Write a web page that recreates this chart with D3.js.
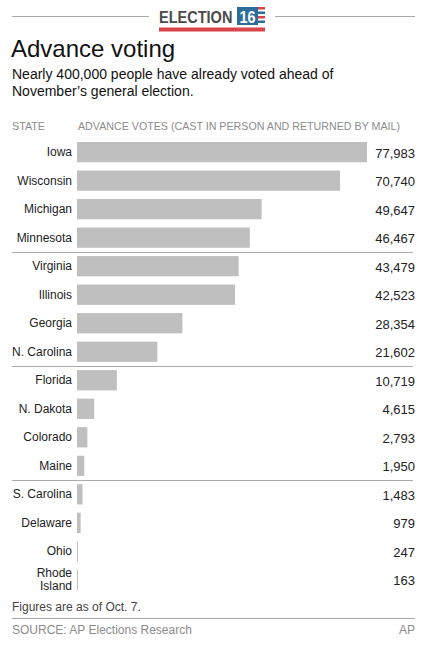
<!DOCTYPE html>
<html>
<head>
<meta charset="utf-8">
<title>Advance voting</title>
<style>
    body { margin: 0; background: #fff; }
    svg { display: block; font-family: "Liberation Sans", Arial, sans-serif; }
    .state { font-size: 12px; fill: #222; text-anchor: end; }
    .value { font-size: 13px; fill: #222; text-anchor: end; }
    .bar { fill: #bfbfbf; }
    .sep { stroke: #aaa; stroke-width: 1px; }
    .gray { fill: #8c8c8c; }
</style>
</head>
<body>
<svg id="chart" width="435" height="650"></svg>
<script src="https://cdnjs.cloudflare.com/ajax/libs/d3/7.8.5/d3.min.js"></script>
<script>
const states = ["Iowa", "Wisconsin", "Michigan", "Minnesota", "Virginia", "Illinois", "Georgia", "N. Carolina",
                "Florida", "N. Dakota", "Colorado", "Maine", "S. Carolina", "Delaware", "Ohio", "Rhode Island"];
const votes = [77983, 70740, 49647, 46467, 43479, 42523, 28354, 21602,
               10719, 4615, 2793, 1950, 1483, 979, 247, 163];
const groupBreaks = ["Virginia", "Florida", "S. Carolina"]; // a rule is drawn above these

const svg = d3.select("#chart");

// header: ELECTION 16 logo
svg.append("line").attr("class", "sep").attr("x1", 12).attr("x2", 149).attr("y1", 16.5).attr("y2", 16.5);
svg.append("line").attr("class", "sep").attr("x1", 275).attr("x2", 415).attr("y1", 16.5).attr("y2", 16.5);
svg.append("text")
    .attr("transform", "translate(159,23) scale(0.88,1)")
    .style("font-size", "16.5px").style("font-weight", "bold").style("fill", "#4a4a4a")
    .text("ELECTION");
svg.append("rect").attr("x", 237).attr("y", 7).attr("width", 21).attr("height", 18).attr("fill", "#2d6e98");
svg.append("text")
    .attr("transform", "translate(247.5,23) scale(0.9,1)")
    .attr("text-anchor", "middle")
    .style("font-size", "16px").style("font-weight", "bold").style("fill", "#fff")
    .text("16");
[0, 1, 2, 3].forEach(i => {
    svg.append("rect").attr("x", 258).attr("y", 7 + i * 4.5).attr("width", 7).attr("height", 2.5)
        .attr("fill", i % 2 ? "#2d6e98" : "#d9434a");
});
svg.append("rect").attr("x", 159).attr("y", 27.5).attr("width", 106).attr("height", 4).attr("fill", "#d9434a");

// titles
svg.append("text").attr("x", 11).attr("y", 57).style("font-size", "24px").style("fill", "#111")
    .text("Advance voting");
svg.append("text").attr("x", 12).attr("y", 79).style("font-size", "14px").style("fill", "#111")
    .text("Nearly 400,000 people have already voted ahead of");
svg.append("text").attr("x", 12).attr("y", 96).style("font-size", "14px").style("fill", "#111")
    .text("November\u2019s general election.");

svg.append("text").attr("class", "gray").attr("x", 12).attr("y", 130)
    .attr("textLength", 33).attr("lengthAdjust", "spacingAndGlyphs")
    .style("font-size", "11px").text("STATE");
svg.append("text").attr("class", "gray").attr("x", 78).attr("y", 130)
    .attr("textLength", 322).attr("lengthAdjust", "spacingAndGlyphs")
    .style("font-size", "11px").text("ADVANCE VOTES (CAST IN PERSON AND RETURNED BY MAIL)");

// scales
const x = d3.scaleLinear().domain([0, d3.max(votes)]).range([77, 367]);
const y = d3.scaleBand().domain(states).range([138, 594]).paddingInner(0.29).paddingOuter(0.14);

const rows = states.map((s, i) => ({ state: s, value: votes[i] }));

svg.selectAll(".bar").data(rows).enter().append("rect")
    .attr("class", "bar")
    .attr("x", x(0))
    .attr("y", d => y(d.state))
    .attr("width", d => Math.max(1, x(d.value) - x(0)))
    .attr("height", y.bandwidth());

const fmt = d3.format(",");
svg.selectAll(".value").data(rows).enter().append("text")
    .attr("class", "value")
    .attr("x", 415)
    .attr("y", d => y(d.state) + y.bandwidth() / 2 + 5.5)
    .text(d => fmt(d.value));

const labels = svg.selectAll(".state").data(rows).enter().append("text")
    .attr("class", "state")
    .attr("x", 72)
    .attr("y", d => y(d.state) + y.bandwidth() / 2 + 4);
labels.each(function (d) {
    const t = d3.select(this);
    if (d.state === "Rhode Island") {
        t.append("tspan").attr("x", 72).attr("dy", "-6.5").text("Rhode");
        t.append("tspan").attr("x", 72).attr("dy", "13").text("Island");
    } else {
        t.text(d.state);
    }
});

// group separators
const step = y.step();
svg.selectAll(".group-sep").data(groupBreaks).enter().append("line")
    .attr("class", "sep")
    .attr("x1", 12).attr("x2", 413)
    .attr("y1", d => Math.round(y(d) - (step - y.bandwidth()) / 2) + 0.5)
    .attr("y2", d => Math.round(y(d) - (step - y.bandwidth()) / 2) + 0.5);

// footer
svg.append("text").attr("x", 12).attr("y", 611).style("font-size", "12px").style("fill", "#444")
    .text("Figures are as of Oct. 7.");
svg.append("line").attr("class", "sep").attr("x1", 12).attr("x2", 415).attr("y1", 618.5).attr("y2", 618.5);
svg.append("text").attr("class", "gray").attr("x", 12).attr("y", 634).style("font-size", "12px")
    .text("SOURCE: AP Elections Research");
svg.append("text").attr("class", "gray").attr("x", 415).attr("y", 634).attr("text-anchor", "end")
    .style("font-size", "12px").text("AP");
</script>
</body>
</html>
